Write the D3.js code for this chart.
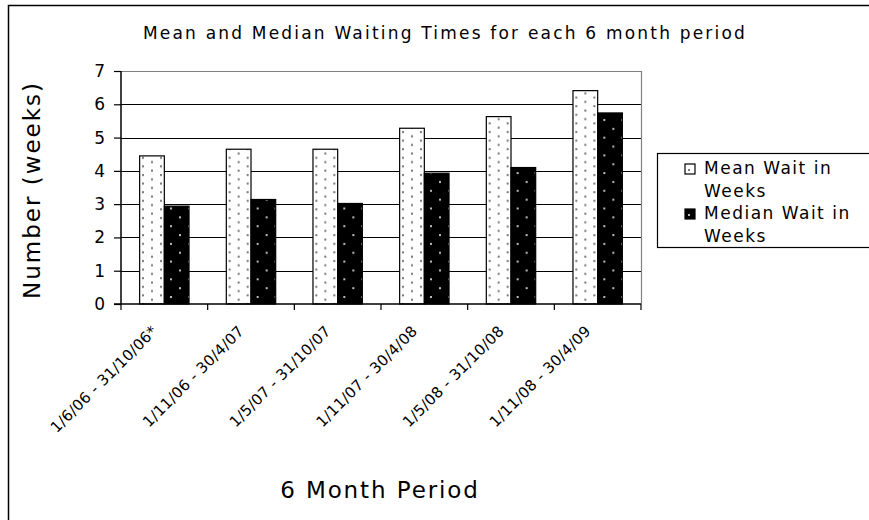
<!DOCTYPE html>
<html>
<head>
<meta charset="utf-8">
<script src="https://cdn.jsdelivr.net/npm/d3@7"></script>
<style>
  body { margin: 0; background: #fff; }
  svg { display: block; font-family: "DejaVu Sans", Verdana, sans-serif; }
</style>
</head>
<body>
<div id="chart"></div>
<script>
const width = 869;
const height = 520;

// data
const periods = [
  "1/6/06 - 31/10/06*",
  "1/11/06 - 30/4/07",
  "1/5/07 - 31/10/07",
  "1/11/07 - 30/4/08",
  "1/5/08 - 31/10/08",
  "1/11/08 - 30/4/09"
];
const meanWait = [4.45, 4.65, 4.65, 5.28, 5.63, 6.41];
const medianWait = [2.94, 3.14, 3.02, 3.93, 4.1, 5.74];
const seriesNames = ["Mean Wait in Weeks", "Median Wait in Weeks"];
const yTicks = [0, 1, 2, 3, 4, 5, 6, 7];

// plot area
const plot = { left: 121, right: 641, top: 71, bottom: 304 };

let svg = d3
  .select("#chart")
  .append("svg")
  .attr("width", width)
  .attr("height", height);

// fill patterns
let defs = svg.append("defs");
let pMean = defs
  .append("pattern")
  .attr("id", "pat-mean")
  .attr("patternUnits", "userSpaceOnUse")
  .attr("width", 18)
  .attr("height", 8.6);
pMean.append("rect").attr("width", 18).attr("height", 8.6).attr("fill", "#fff");
pMean.append("rect").attr("x", 3).attr("y", 2).attr("width", 2).attr("height", 2).attr("fill", "#777");
pMean.append("rect").attr("x", 12).attr("y", 6.3).attr("width", 2).attr("height", 2).attr("fill", "#777");

let pMedian = defs
  .append("pattern")
  .attr("id", "pat-median")
  .attr("patternUnits", "userSpaceOnUse")
  .attr("width", 18)
  .attr("height", 17.7);
pMedian.append("rect").attr("width", 18).attr("height", 17.7).attr("fill", "#000");
pMedian.append("rect").attr("x", 4).attr("y", 4).attr("width", 2).attr("height", 2).attr("fill", "#bbb");
pMedian.append("rect").attr("x", 13).attr("y", 12.8).attr("width", 2).attr("height", 2).attr("fill", "#bbb");

const fills = ["url(#pat-mean)", "url(#pat-median)"];

// outer chart border
svg
  .append("rect")
  .attr("x", 8.5)
  .attr("y", 5.5)
  .attr("width", 880)
  .attr("height", 540)
  .attr("fill", "none")
  .attr("stroke", "#000")
  .attr("stroke-width", 1.5);

// scales
let x0 = d3.scaleBand().domain(periods).range([plot.left, plot.right]).padding(0);
let x1 = d3
  .scaleBand()
  .domain(seriesNames)
  .range([0, x0.bandwidth()])
  .paddingInner(0)
  .paddingOuter(0.755);
let y = d3.scaleLinear().domain([0, 7]).range([plot.bottom, plot.top]);

// gridlines
svg
  .append("g")
  .selectAll("line")
  .data(yTicks.filter((t) => t > 0 && t < 7))
  .enter()
  .append("line")
  .attr("x1", plot.left)
  .attr("x2", plot.right)
  .attr("y1", (d) => Math.round(y(d)) + 0.5)
  .attr("y2", (d) => Math.round(y(d)) + 0.5)
  .attr("stroke", "#000")
  .attr("stroke-width", 1.2);

// plot area border (top/right grey)
svg
  .append("path")
  .attr("d", `M${plot.left},${plot.top + 0.5}H${plot.right + 0.5}V${plot.bottom}`)
  .attr("fill", "none")
  .attr("stroke", "#808080")
  .attr("stroke-width", 1.2);

// bars
const rows = periods.map((p, i) => ({ period: p, values: [meanWait[i], medianWait[i]] }));
let groups = svg
  .append("g")
  .selectAll("g")
  .data(rows)
  .enter()
  .append("g")
  .attr("transform", (d) => `translate(${x0(d.period)},0)`);
groups
  .selectAll("rect")
  .data((d) => d.values.map((v, j) => ({ key: seriesNames[j], value: v, j: j })))
  .enter()
  .append("rect")
  .attr("x", (d) => x1(d.key))
  .attr("y", (d) => y(d.value))
  .attr("width", x1.bandwidth())
  .attr("height", (d) => y(0) - y(d.value))
  .attr("fill", (d) => fills[d.j])
  .attr("stroke", "#000")
  .attr("stroke-width", 1.2);

// y axis
let yAxis = svg
  .append("g")
  .attr("transform", `translate(${plot.left},0)`)
  .call(d3.axisLeft(y).tickValues(yTicks).tickSize(7).tickPadding(9).tickFormat(d3.format("d")));
yAxis.select(".domain").attr("stroke", "#000").attr("stroke-width", 1.5).attr("d", `M0,${plot.top}V${plot.bottom}`);
yAxis.selectAll(".tick line").attr("stroke", "#000").attr("stroke-width", 1.2);
yAxis
  .selectAll(".tick text")
  .attr("font-size", 17)
  .attr("fill", "#000")
  .attr("font-family", "DejaVu Sans");

// x axis
let xTicks = d3.range(periods.length + 1).map((i) => plot.left + i * x0.step());
let xAxis = svg.append("g");
xAxis
  .append("line")
  .attr("x1", plot.left - 7)
  .attr("x2", plot.right)
  .attr("y1", plot.bottom)
  .attr("y2", plot.bottom)
  .attr("stroke", "#000")
  .attr("stroke-width", 1.5);
xAxis
  .selectAll(".xtick")
  .data(xTicks)
  .enter()
  .append("line")
  .attr("class", "xtick")
  .attr("x1", (d) => d)
  .attr("x2", (d) => d)
  .attr("y1", plot.bottom)
  .attr("y2", plot.bottom + 6)
  .attr("stroke", "#000")
  .attr("stroke-width", 1.2);
xAxis
  .selectAll(".xlabel")
  .data(periods)
  .enter()
  .append("text")
  .attr("class", "xlabel")
  .attr("text-anchor", "end")
  .attr("font-size", 15)
  .attr("letter-spacing", 0.3)
  .attr("transform", (d) => `translate(${x0(d) + x0.bandwidth() / 2 - 6},332) rotate(-45)`)
  .text((d) => d);

// titles
svg
  .append("text")
  .attr("x", 445)
  .attr("y", 39)
  .attr("text-anchor", "middle")
  .attr("font-size", 17)
  .attr("letter-spacing", 2.2)
  .text("Mean and Median Waiting Times for each 6 month period");

svg
  .append("text")
  .attr("transform", "translate(40,190) rotate(-90)")
  .attr("text-anchor", "middle")
  .attr("font-size", 23)
  .attr("letter-spacing", 2)
  .text("Number (weeks)");

svg
  .append("text")
  .attr("x", 380)
  .attr("y", 498)
  .attr("text-anchor", "middle")
  .attr("font-size", 23)
  .attr("letter-spacing", 1.9)
  .text("6 Month Period");

// legend
let legend = svg.append("g");
legend
  .append("rect")
  .attr("x", 657.5)
  .attr("y", 153.5)
  .attr("width", 240)
  .attr("height", 94)
  .attr("fill", "#fff")
  .attr("stroke", "#000")
  .attr("stroke-width", 1.2);
const legendLines = [["Mean Wait in", "Weeks"], ["Median Wait in", "Weeks"]];
legendLines.forEach((lines, i) => {
  let top = 174 + i * 45;
  legend
    .append("rect")
    .attr("x", 685)
    .attr("y", top - 10)
    .attr("width", 10)
    .attr("height", 10)
    .attr("fill", i === 0 ? "#fff" : "#000")
    .attr("stroke", "#000")
    .attr("stroke-width", 1.2);
  legend
    .append("rect")
    .attr("x", 688)
    .attr("y", top - 5)
    .attr("width", 2)
    .attr("height", 2)
    .attr("fill", i === 0 ? "#777" : "#bbb");
  lines.forEach((t, k) => {
    legend
      .append("text")
      .attr("x", 704)
      .attr("y", top + k * 23)
      .attr("font-size", 17)
      .attr("letter-spacing", 1.5)
      .text(t);
  });
});
</script>
</body>
</html>
